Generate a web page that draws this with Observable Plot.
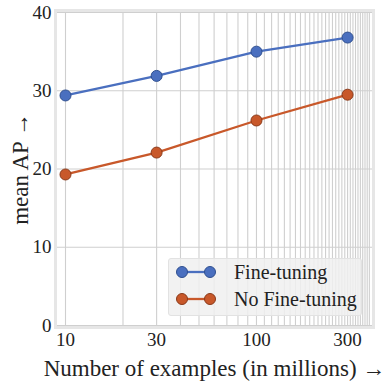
<!DOCTYPE html>
<html>
<head>
<meta charset="utf-8">
<script src="https://cdn.jsdelivr.net/npm/d3@7"></script>
<script src="https://cdn.jsdelivr.net/npm/@observablehq/plot@0.6"></script>
<style>
  html, body { margin: 0; padding: 0; background: #fff; }
  #wrap { position: relative; width: 391px; height: 383px; }
  #legend {
    position: absolute; left: 168px; top: 258px; width: 194px; height: 58px;
    background: rgba(240,240,240,0.85); border: 1px solid #e2e2e2; border-radius: 3px;
    box-sizing: border-box; font-family: "Liberation Serif", serif; font-size: 20px; color: #222;
  }
  .row { position: absolute; left: 0; height: 24px; display: flex; align-items: center; white-space: nowrap; }
  .row svg { margin-left: 7px; }
  .row span { margin-left: 18px; }
</style>
</head>
<body>
<div id="wrap"></div>
<script>
const examples = [10, 30, 100, 300];
const fineTuning = [29.4, 31.9, 35.0, 36.8];
const noFineTuning = [19.3, 22.1, 26.2, 29.5];
const seriesNames = ["Fine-tuning", "No Fine-tuning"];
const seriesColors = ["#4a6fbf", "#c8582a"];
const seriesEdges = ["#2f4f8f", "#8a3a1a"];
const xTicks = [10, 30, 100, 300];
const yTicks = [0, 10, 20, 30, 40];
const xGrid = d3.range(10, 400, 10);

const rows = [];
examples.forEach((x, i) => {
  rows.push({x, y: fineTuning[i], s: seriesNames[0]});
  rows.push({x, y: noFineTuning[i], s: seriesNames[1]});
});

const chart = Plot.plot({
  width: 391,
  height: 383,
  marginLeft: 55,
  marginRight: 18,
  marginTop: 10,
  marginBottom: 56,
  style: {fontFamily: "Liberation Serif, serif", color: "#222", background: "#fff"},
  x: {type: "log", domain: [8.864, 410]},
  y: {domain: [-0.26, 40.26]},
  color: {domain: seriesNames, range: seriesColors},
  marks: [
    Plot.gridX(xGrid, {stroke: "#cfcfcf", strokeOpacity: 1, strokeWidth: 1.1}),
    Plot.gridY(yTicks, {stroke: "#cfcfcf", strokeOpacity: 1, strokeWidth: 1.1}),
    Plot.frame({stroke: "#e6e6e6", strokeWidth: 3}),
    Plot.axisX({ticks: xTicks, tickFormat: d => String(d), tickSize: 0, tickPadding: 5,
      label: "Number of examples (in millions) →", labelArrow: "none", labelAnchor: "center", labelOffset: 48}),
    Plot.axisY({ticks: yTicks, tickSize: 0, tickPadding: 4,
      label: "mean AP →", labelArrow: "none", labelAnchor: "center", labelOffset: 44}),
    Plot.line(rows, {x: "x", y: "y", z: "s", stroke: "s", strokeWidth: 2.3}),
    Plot.dot(rows, {x: "x", y: "y", fill: "s", r: 5.5,
      stroke: d => seriesEdges[seriesNames.indexOf(d.s)], strokeWidth: 1})
  ]
});
chart.querySelectorAll("g[aria-label='x-axis tick label'], g[aria-label='y-axis tick label']").forEach(g => g.setAttribute("font-size", "19"));
chart.querySelectorAll("g[aria-label='x-axis label'], g[aria-label='y-axis label']").forEach(g => g.setAttribute("font-size", "23"));
const wrap = document.getElementById("wrap");
wrap.appendChild(chart);

const legend = document.createElement("div");
legend.id = "legend";
seriesNames.forEach((name, i) => {
  const row = document.createElement("div");
  row.className = "row";
  row.style.top = (i === 0 ? 1 : 28) + "px";
  row.innerHTML = `<svg width="40" height="14"><line x1="6" y1="7" x2="34" y2="7" stroke="${seriesColors[i]}" stroke-width="2.3"/>` +
    `<circle cx="6" cy="7" r="5.5" fill="${seriesColors[i]}" stroke="${seriesEdges[i]}"/>` +
    `<circle cx="34" cy="7" r="5.5" fill="${seriesColors[i]}" stroke="${seriesEdges[i]}"/></svg><span>${name}</span>`;
  legend.appendChild(row);
});
wrap.appendChild(legend);
</script>
</body>
</html>
